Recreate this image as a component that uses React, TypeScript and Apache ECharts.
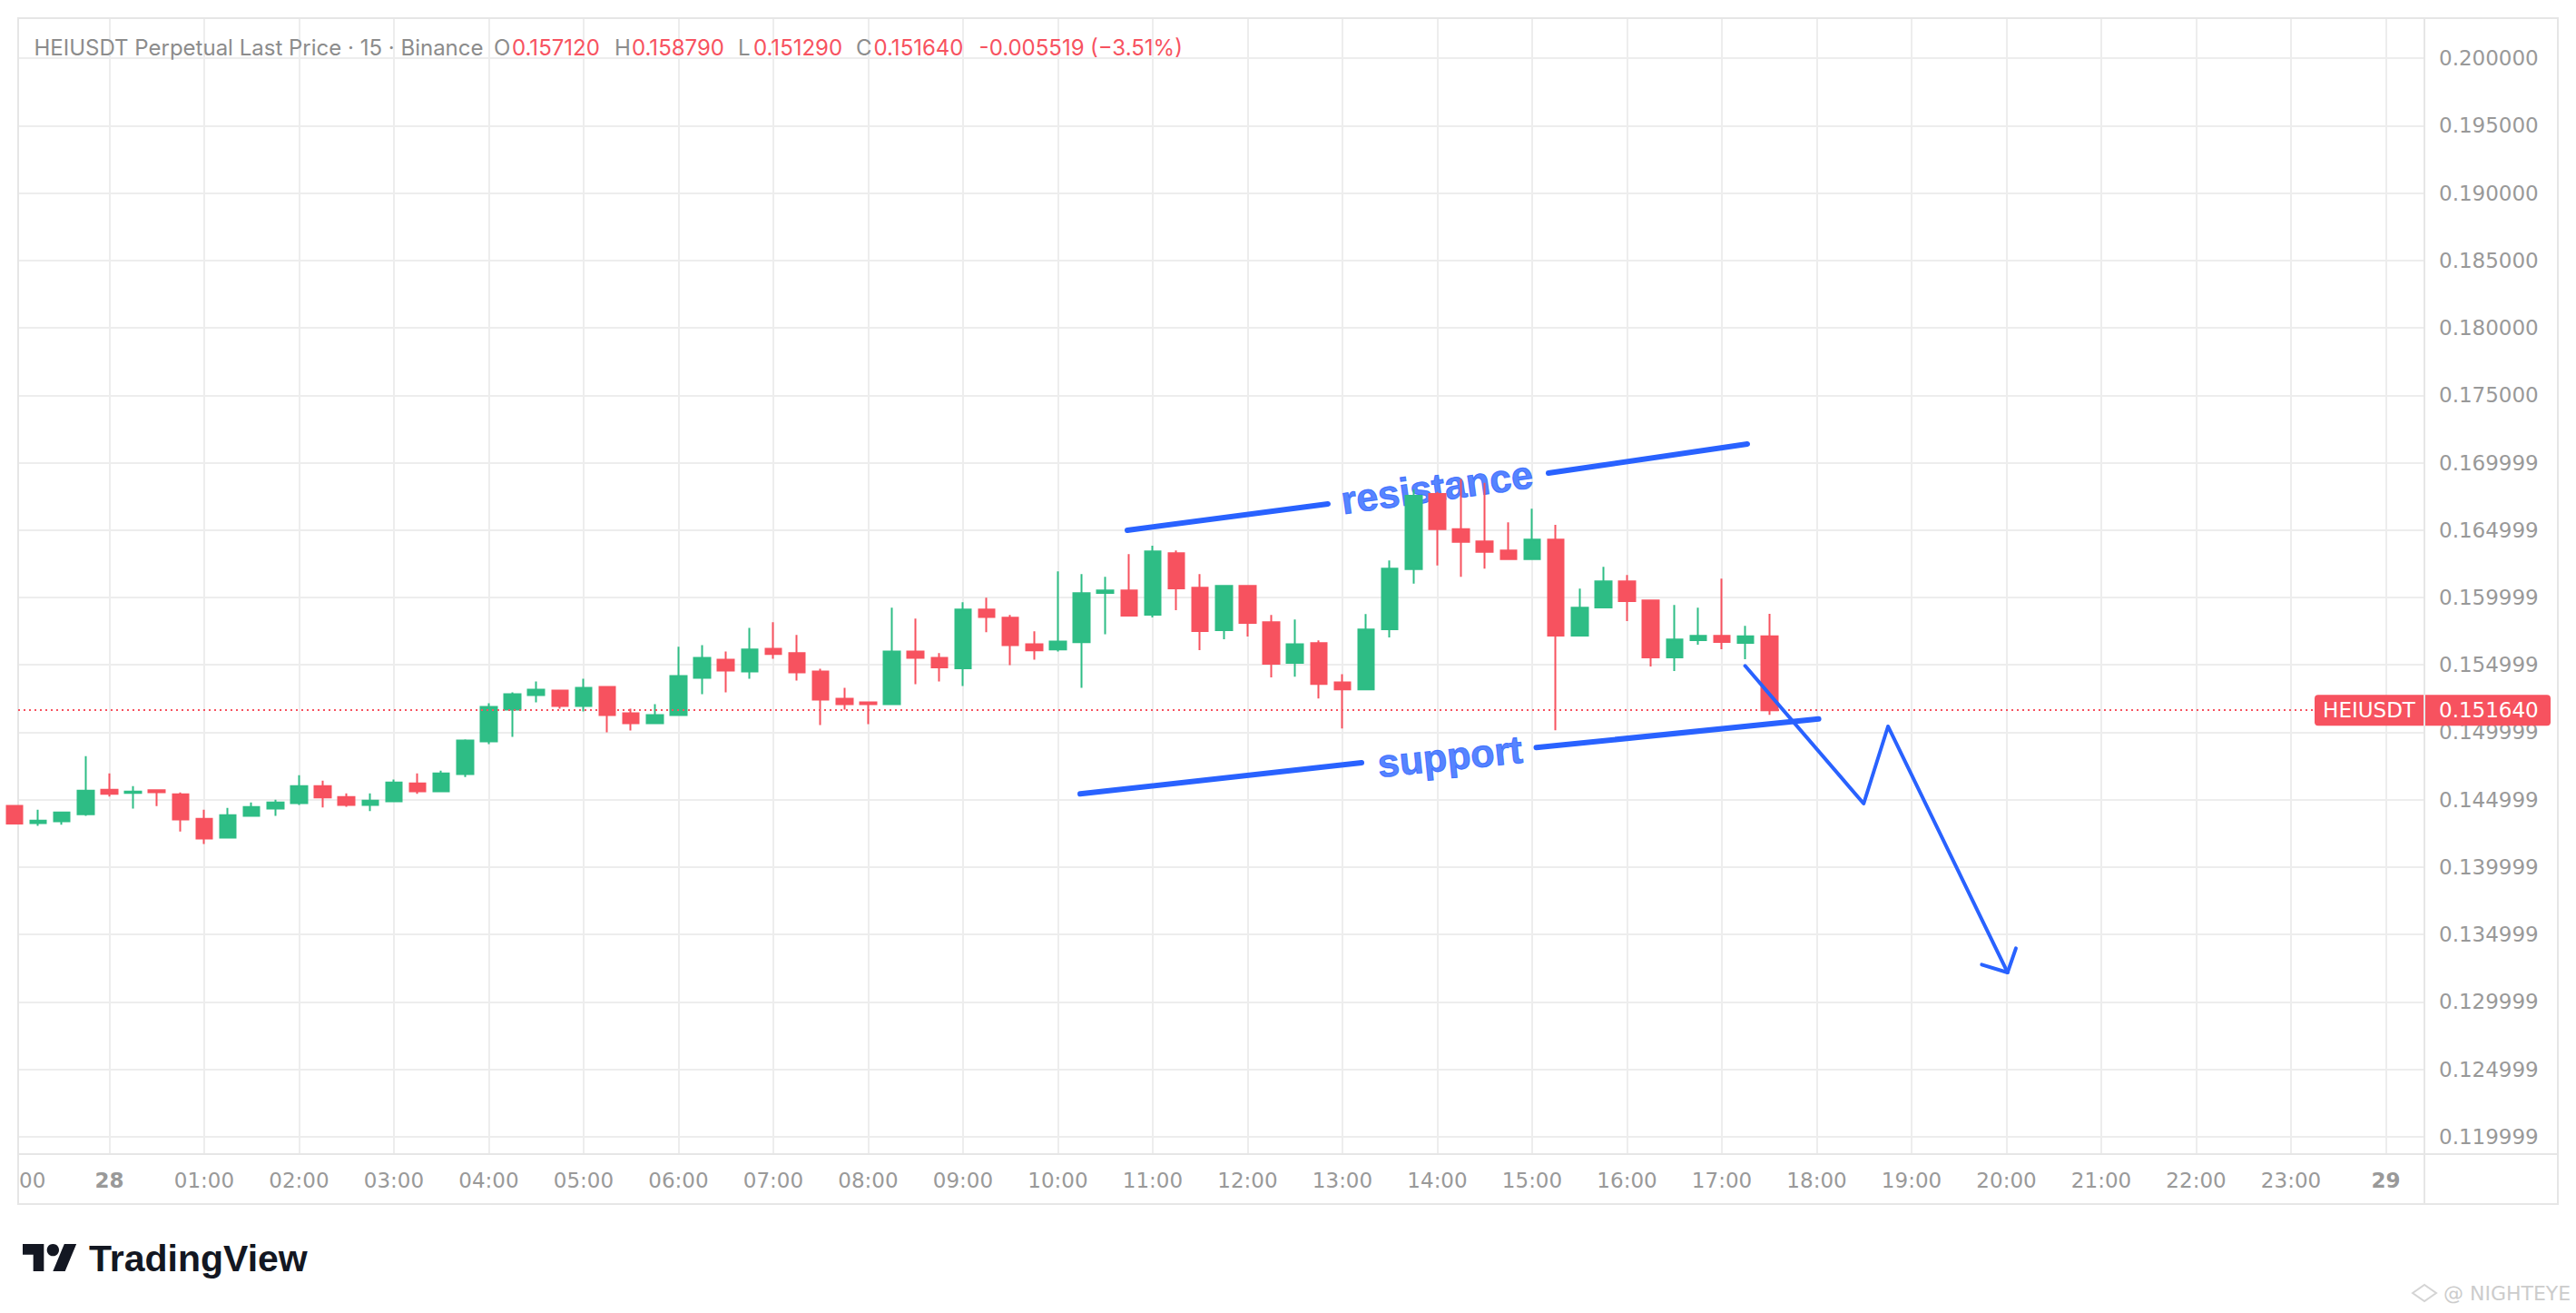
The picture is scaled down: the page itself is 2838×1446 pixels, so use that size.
import React, { useEffect, useRef } from 'react';
import * as echarts from 'echarts';

// ---------- data ----------
const candleTimes = [
  '27 23:00', '27 23:15', '27 23:30', '27 23:45',
  '28 00:00', '28 00:15', '28 00:30', '28 00:45', '28 01:00', '28 01:15', '28 01:30', '28 01:45',
  '28 02:00', '28 02:15', '28 02:30', '28 02:45', '28 03:00', '28 03:15', '28 03:30', '28 03:45',
  '28 04:00', '28 04:15', '28 04:30', '28 04:45', '28 05:00', '28 05:15', '28 05:30', '28 05:45',
  '28 06:00', '28 06:15', '28 06:30', '28 06:45', '28 07:00', '28 07:15', '28 07:30', '28 07:45',
  '28 08:00', '28 08:15', '28 08:30', '28 08:45', '28 09:00', '28 09:15', '28 09:30', '28 09:45',
  '28 10:00', '28 10:15', '28 10:30', '28 10:45', '28 11:00', '28 11:15', '28 11:30', '28 11:45',
  '28 12:00', '28 12:15', '28 12:30', '28 12:45', '28 13:00', '28 13:15', '28 13:30', '28 13:45',
  '28 14:00', '28 14:15', '28 14:30', '28 14:45', '28 15:00', '28 15:15', '28 15:30', '28 15:45',
  '28 16:00', '28 16:15', '28 16:30', '28 16:45', '28 17:00', '28 17:15', '28 17:30',
];

const opens = [
  0.14455, 0.14327, 0.14340, 0.14392, 0.14574, 0.14550, 0.14570, 0.14541, 0.14359, 0.14219,
  0.14381, 0.14435, 0.14475, 0.14601, 0.14520, 0.14462, 0.14489, 0.14622, 0.14563, 0.14691,
  0.14932, 0.15168, 0.15276, 0.15310, 0.15195, 0.15337, 0.15141, 0.15067, 0.15128, 0.15404,
  0.15539, 0.15452, 0.15620, 0.15587, 0.15452, 0.15249, 0.15222, 0.15209, 0.15600, 0.15553,
  0.15474, 0.15910, 0.15850, 0.15654, 0.15614, 0.15668, 0.16034, 0.16052, 0.15872, 0.16329,
  0.16072, 0.15758, 0.16086, 0.15816, 0.15515, 0.15661, 0.15371, 0.15319, 0.15764, 0.16210,
  0.16767, 0.16506, 0.16416, 0.16349, 0.16284, 0.16430, 0.15717, 0.15926, 0.16120, 0.15978,
  0.15555, 0.15683, 0.15715, 0.15663, 0.15712,
];
const highs = [
  0.14460, 0.14426, 0.14412, 0.14824, 0.14696, 0.14601, 0.14574, 0.14554, 0.14426, 0.14439,
  0.14480, 0.14500, 0.14682, 0.14642, 0.14547, 0.14547, 0.14649, 0.14696, 0.14716, 0.14948,
  0.15215, 0.15296, 0.15377, 0.15317, 0.15398, 0.15338, 0.15175, 0.15209, 0.15634, 0.15647,
  0.15600, 0.15775, 0.15816, 0.15722, 0.15472, 0.15330, 0.15225, 0.15924, 0.15843, 0.15587,
  0.15964, 0.15998, 0.15870, 0.15749, 0.16194, 0.16174, 0.16153, 0.16322, 0.16383, 0.16349,
  0.16174, 0.16086, 0.16086, 0.15870, 0.15836, 0.15681, 0.15431, 0.15877, 0.16275, 0.16801,
  0.16783, 0.16878, 0.16850, 0.16558, 0.16659, 0.16538, 0.16066, 0.16228, 0.16167, 0.15985,
  0.15944, 0.15924, 0.16140, 0.15789, 0.15879,
];
const lows = [
  0.14318, 0.14307, 0.14314, 0.14381, 0.14523, 0.14435, 0.14453, 0.14264, 0.14172, 0.14217,
  0.14378, 0.14381, 0.14462, 0.14442, 0.14448, 0.14415, 0.14487, 0.14543, 0.14556, 0.14669,
  0.14912, 0.14966, 0.15222, 0.15175, 0.15155, 0.15000, 0.15013, 0.15060, 0.15125, 0.15283,
  0.15296, 0.15398, 0.15546, 0.15384, 0.15054, 0.15168, 0.15060, 0.15205, 0.15357, 0.15377,
  0.15344, 0.15742, 0.15499, 0.15539, 0.15600, 0.15330, 0.15728, 0.15864, 0.15852, 0.15906,
  0.15609, 0.15690, 0.15710, 0.15407, 0.15413, 0.15251, 0.15029, 0.15318, 0.15704, 0.16102,
  0.16237, 0.16153, 0.16214, 0.16283, 0.16277, 0.15015, 0.15716, 0.15925, 0.15825, 0.15488,
  0.15454, 0.15650, 0.15616, 0.15542, 0.15129,
];
const closes = [
  0.14323, 0.14345, 0.14406, 0.14568, 0.14543, 0.14561, 0.14556, 0.14354, 0.14212, 0.14386,
  0.14446, 0.14480, 0.14601, 0.14516, 0.14462, 0.14493, 0.14628, 0.14563, 0.14696, 0.14939,
  0.15188, 0.15283, 0.15317, 0.15195, 0.15330, 0.15128, 0.15067, 0.15128, 0.15418, 0.15553,
  0.15458, 0.15614, 0.15580, 0.15445, 0.15242, 0.15209, 0.15209, 0.15600, 0.15553, 0.15481,
  0.15910, 0.15856, 0.15647, 0.15607, 0.15674, 0.16032, 0.16052, 0.15865, 0.16342, 0.16068,
  0.15751, 0.16086, 0.15811, 0.15508, 0.15654, 0.15359, 0.15319, 0.15762, 0.16214, 0.16754,
  0.16506, 0.16412, 0.16338, 0.16284, 0.16430, 0.15717, 0.15924, 0.16120, 0.15973, 0.15555,
  0.15688, 0.15715, 0.15670, 0.15712, 0.15164,
];

const lastClose = 0.15164;

const timeTickLabels = [
  '28', '01:00', '02:00', '03:00', '04:00', '05:00', '06:00', '07:00', '08:00', '09:00', '10:00', '11:00',
  '12:00', '13:00', '14:00', '15:00', '16:00', '17:00', '18:00', '19:00', '20:00', '21:00', '22:00', '23:00', '29',
];
const priceTickValues = [
  0.12, 0.125, 0.13, 0.135, 0.14, 0.145, 0.15, 0.155, 0.16, 0.165, 0.17, 0.175, 0.18, 0.185, 0.19, 0.195, 0.2,
];
const priceTickLabels = [
  '0.119999', '0.124999', '0.129999', '0.134999', '0.139999', '0.144999', '0.149999', '0.154999', '0.159999',
  '0.164999', '0.169999', '0.175000', '0.180000', '0.185000', '0.190000', '0.195000', '0.200000',
];

// drawings: [minutes from 28 00:00, price]
const resistanceSeg1 = [[643.9, 0.164983], [770.8, 0.166936]];
const resistanceSeg2 = [[910.3, 0.169226], [1036.1, 0.17138]];
const supportSeg1 = [[614.1, 0.145434], [792.1, 0.147744]];
const supportSeg2 = [[902.6, 0.148869], [1081.2, 0.150997]];
const arrowPath = [[1034.7, 0.154929], [1109.7, 0.144714], [1125.1, 0.150438], [1200.7, 0.132189]];
const arrowHead = [[1184.4, 0.132774], [1200.7, 0.132189], [1206.0, 0.133986]];
const resistanceLabel = [839.7, 0.168175];
const supportLabel = [848.0, 0.148215];

// ---------- helpers ----------
const toMinutes = (s: string) => {
  const [d, hm] = s.split(' ');
  const [h, m] = hm.split(':').map(Number);
  return (Number(d) - 28) * 1440 + h * 60 + m;
};
const timeTickValues = timeTickLabels.map((_, i) => i * 60);

const UP = '#2EBD85';
const DOWN = '#F7525F';
const BLUE = '#2962FF';
const AXIS_FONT = 'DejaVu Sans';
const GRID_COLOR = '#ededed';

export default function App() {
  const ref = useRef<HTMLDivElement>(null);

  useEffect(() => {
    const chart = echarts.init(ref.current!, null, { renderer: 'svg' });
    const candleData = candleTimes.map((t, i) => [toMinutes(t), opens[i], closes[i], lows[i], highs[i]]);

    const lineSeries = (data: number[][], width: number) => ({
      type: 'line',
      data,
      showSymbol: false,
      symbol: 'none',
      silent: true,
      z: 5,
      lineStyle: { color: BLUE, width, cap: 'round', join: 'round' },
      animation: false,
    });
    const labelSeries = (pt: number[], text: string, rotate: number) => ({
      type: 'scatter',
      data: [pt],
      symbolSize: 1,
      silent: true,
      z: 1,
      itemStyle: { color: 'rgba(0,0,0,0)' },
      label: {
        show: true,
        formatter: text,
        position: 'inside',
        rotate,
        align: 'center',
        verticalAlign: 'middle',
        fontSize: 43,
        fontWeight: 'bold',
        fontFamily: 'Liberation Sans',
        color: BLUE,
        textBorderColor: BLUE,
        textBorderWidth: 1,
      },
    });

    chart.setOption({
      animation: false,
      backgroundColor: '#ffffff',
      grid: { left: 20, top: 20, width: 2651, height: 1251, containLabel: false },
      xAxis: {
        type: 'value',
        min: -57.7,
        max: 1464.4,
        axisLine: { show: false },
        axisTick: { show: false, customValues: timeTickValues },
        splitLine: { show: true, lineStyle: { color: GRID_COLOR, width: 2 } },
        axisLabel: {
          customValues: timeTickValues,
          margin: 17,
          color: '#999999',
          fontSize: 23,
          fontFamily: AXIS_FONT,
          formatter: (v: number) => {
            const i = timeTickValues.indexOf(Math.round(v));
            const s = i >= 0 ? timeTickLabels[i] : '';
            return s.length === 2 ? `{d|${s}}` : s;
          },
          rich: { d: { fontWeight: 'bold', fontSize: 23, fontFamily: AXIS_FONT, color: '#999999' } },
        },
      },
      yAxis: {
        type: 'value',
        position: 'right',
        min: 0.1187205,
        max: 0.202963,
        scale: true,
        axisLine: { show: false },
        axisTick: { show: false, customValues: priceTickValues },
        splitLine: { show: true, lineStyle: { color: GRID_COLOR, width: 2 } },
        axisLabel: {
          customValues: priceTickValues,
          margin: 16,
          align: 'left',
          color: '#999999',
          fontSize: 23,
          fontFamily: AXIS_FONT,
          formatter: (v: number) => {
            let best = 0;
            priceTickValues.forEach((p, i) => {
              if (Math.abs(p - v) < Math.abs(priceTickValues[best] - v)) best = i;
            });
            return priceTickLabels[best];
          },
        },
      },
      series: [
        labelSeries(resistanceLabel, 'resistance', 7.92),
        labelSeries(supportLabel, 'support', 5.8),
        {
          type: 'candlestick',
          data: candleData,
          barWidth: 18,
          z: 3,
          silent: true,
          itemStyle: { color: UP, color0: DOWN, borderColor: UP, borderColor0: DOWN, borderWidth: 2 },
          markLine: {
            symbol: 'none',
            silent: true,
            precision: 6,
            label: { show: false },
            lineStyle: { color: DOWN, type: [2, 4], width: 2 },
            data: [{ yAxis: lastClose }],
          },
        },
        lineSeries(resistanceSeg1, 6),
        lineSeries(resistanceSeg2, 6),
        lineSeries(supportSeg1, 6),
        lineSeries(supportSeg2, 6),
        lineSeries(arrowPath, 4),
        lineSeries(arrowHead, 4),
      ],
    });

    const yTag = chart.convertToPixel({ yAxisIndex: 0 }, lastClose) as number;
    const border = '#e6e6e6';
    const titleFont = 'Inter';
    const gray = '#8c8c8c';
    const t = (text: string, x: number, fill: string) => ({
      type: 'text',
      x,
      y: 52,
      silent: true,
      style: { text, fill, fontSize: 24, fontFamily: titleFont, align: 'left', verticalAlign: 'middle' },
    });
    const s = 1.667;
    const ox = 25;
    const oy = 1363.3;
    const P = (pts: number[][]) => pts.map(([a, b]) => [ox + a * s, oy + b * s]);

    chart.setOption({
      graphic: [
        // frame
        { type: 'rect', silent: true, shape: { x: 20, y: 20, width: 2798, height: 1306 }, style: { fill: 'none', stroke: border, lineWidth: 2 } },
        { type: 'line', silent: true, shape: { x1: 2671, y1: 20, x2: 2671, y2: 1326 }, style: { stroke: border, lineWidth: 2 } },
        { type: 'line', silent: true, shape: { x1: 20, y1: 1271, x2: 2818, y2: 1271 }, style: { stroke: border, lineWidth: 2 } },
        // partial first time label
        { type: 'text', x: 21, y: 1300, silent: true, style: { text: '00', fill: '#999999', fontSize: 23, fontFamily: AXIS_FONT, align: 'left', verticalAlign: 'middle' } },
        // title legend
        t('HEIUSDT Perpetual Last Price · 15 · Binance', 37.5, gray),
        t('O', 544, gray),
        t('0.157120', 564, DOWN),
        t('H', 677, gray),
        t('0.158790', 696, DOWN),
        t('L', 813, gray),
        t('0.151290', 830, DOWN),
        t('C', 943, gray),
        t('0.151640', 962.5, DOWN),
        t('-0.005519', 1078.6, DOWN),
        t('(\u22123.51%)', 1201, DOWN),
        // price tag
        { type: 'rect', silent: true, z: 50, shape: { x: 2550, y: yTag - 17, width: 120, height: 34, r: [4, 0, 0, 4] }, style: { fill: DOWN } },
        { type: 'rect', silent: true, z: 50, shape: { x: 2672, y: yTag - 17, width: 138, height: 34, r: [0, 4, 4, 0] }, style: { fill: DOWN } },
        { type: 'text', silent: true, z: 51, x: 2610, y: yTag, style: { text: 'HEIUSDT', fill: '#ffffff', fontSize: 23, fontFamily: AXIS_FONT, align: 'center', verticalAlign: 'middle' } },
        { type: 'text', silent: true, z: 51, x: 2687, y: yTag, style: { text: '0.151640', fill: '#ffffff', fontSize: 23, fontFamily: AXIS_FONT, align: 'left', verticalAlign: 'middle' } },
        // TradingView logo
        { type: 'polygon', silent: true, shape: { points: P([[0, 4], [14, 4], [14, 22], [7, 22], [7, 11], [0, 11]]) }, style: { fill: '#131722' } },
        { type: 'circle', silent: true, shape: { cx: ox + 20 * s, cy: oy + 8 * s, r: 4 * s }, style: { fill: '#131722' } },
        { type: 'polygon', silent: true, shape: { points: P([[20, 22], [28, 22], [35.5, 4], [27.5, 4]]) }, style: { fill: '#131722' } },
        { type: 'text', silent: true, x: 98, y: 1386, style: { text: 'TradingView', fill: '#131722', fontSize: 41, fontWeight: 'bold', fontFamily: 'Liberation Sans', align: 'left', verticalAlign: 'middle' } },
        // watermark
        { type: 'polygon', silent: true, shape: { points: [[2658, 1424], [2671, 1415], [2684, 1424], [2671, 1433]] }, style: { fill: 'none', stroke: '#d4d4d4', lineWidth: 2 } },
        { type: 'text', silent: true, x: 2692, y: 1424, style: { text: '@ NIGHTEYE', fill: '#cccccc', fontSize: 22, fontFamily: AXIS_FONT, align: 'left', verticalAlign: 'middle' } },
      ],
    });

    return () => chart.dispose();
  }, []);

  return (
    <div
      ref={ref}
      style={{ position: 'fixed', left: 0, top: 0, width: 2838, height: 1446, background: '#ffffff' }}
    />
  );
}
